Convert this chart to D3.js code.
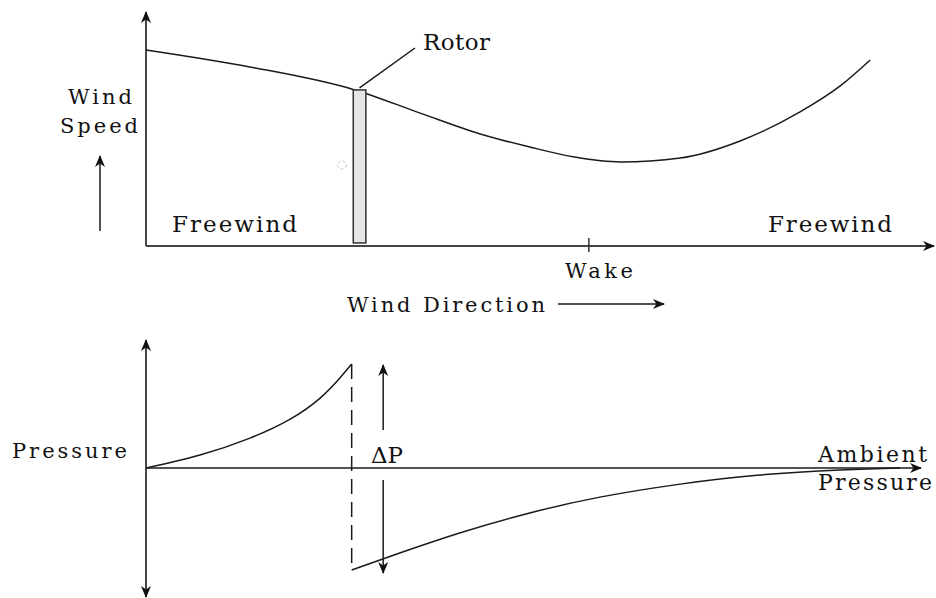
<!DOCTYPE html>
<html>
<head>
<meta charset="utf-8">
<script src="https://cdn.jsdelivr.net/npm/d3@7"></script>
<style>
  body { margin: 0; background: #fff; }
  svg { display: block; }
  text { font-family: "DejaVu Serif", "Liberation Serif", serif; fill: #111; }
</style>
</head>
<body>
<div id="chart"></div>
<script>
// Top panel: wind speed along the stream (distance 0..10, speed 0..10)
const speedX = [0, 1.32, 2.65, 3.48, 4.24, 4.87, 5.44, 6.02, 6.78, 7.54, 8.30, 8.81, 9.19]
const speedY = [8.38, 7.65, 6.67, 5.68, 4.79, 4.23, 3.80, 3.59, 3.76, 4.49, 5.73, 6.84, 7.95]

// Rotor disc position and height
const rotorX = [2.63, 2.79]
const rotorY = [0.13, 6.67]
const wakeX = 5.62

// Bottom panel: pressure relative to ambient, before and after the rotor
const upX = [0, 0.685, 1.32, 1.83, 2.21, 2.46, 2.61]
const upY = [0, 0.50, 1.15, 1.88, 2.69, 3.46, 4.0]
const downX = [2.61, 3.22, 3.98, 4.87, 5.76, 6.78, 7.79, 8.81, 9.57]
const downY = [-3.92, -3.27, -2.50, -1.73, -1.12, -0.62, -0.27, -0.08, 0]
const deltaX = 3.01
const deltaRange = [3.96, -4.04]

const width = 936
const height = 598

const svg = d3.select("#chart")
  .append("svg")
  .attr("width", width)
  .attr("height", height)

svg.append("rect").attr("width", width).attr("height", height).attr("fill", "#fff")

// barbed arrow head
svg.append("defs").append("marker")
  .attr("id", "arrow")
  .attr("viewBox", "0 0 12 12")
  .attr("refX", 11)
  .attr("refY", 6)
  .attr("markerWidth", 12)
  .attr("markerHeight", 12)
  .attr("markerUnits", "userSpaceOnUse")
  .attr("orient", "auto-start-reverse")
  .append("path")
  .attr("d", "M0,1 L12,6 L0,11 L3.5,6 Z")
  .attr("fill", "#111")

const x = d3.scaleLinear().domain([0, 10]).range([146, 934])
const yTop = d3.scaleLinear().domain([0, 10]).range([246, 12])
const yBot = d3.scaleLinear().domain([-5, 5]).range([598, 338])

const ink = "#1a1a1a"

function label(txt, px, py, size, len, anchor) {
  const t = svg.append("text")
    .attr("x", px)
    .attr("y", py)
    .attr("font-size", size + "px")
    .attr("text-anchor", anchor || "start")
    .text(txt)
  if (len) t.attr("textLength", len).attr("lengthAdjust", "spacing")
  return t
}

function seg(x1, y1, x2, y2, opts) {
  const o = opts || {}
  const l = svg.append("line")
    .attr("x1", x1).attr("y1", y1).attr("x2", x2).attr("y2", y2)
    .attr("stroke", o.color || ink)
    .attr("stroke-width", o.w || 1.5)
  if (o.end) l.attr("marker-end", "url(#arrow)")
  if (o.start) l.attr("marker-start", "url(#arrow)")
  if (o.dash) l.attr("stroke-dasharray", o.dash)
  return l
}

function curve(xs, ys, yScale, kind) {
  const gen = d3.line().curve(kind || d3.curveMonotoneX)
  svg.append("path")
    .attr("d", gen(xs.map((d, i) => [x(d), yScale(ys[i])])))
    .attr("fill", "none")
    .attr("stroke", ink)
    .attr("stroke-width", 1.5)
}

// ---- Top panel ----
seg(x(0), yTop(0), x(0), yTop(10), { end: true, color: "#333", w: 1.8 })
seg(x(0), yTop(0), x(10), yTop(0), { end: true, color: "#444", w: 2 })

// wake tick
seg(x(wakeX), yTop(0) - 8, x(wakeX), yTop(0) + 6, { color: "#333", w: 1.5 })

curve(speedX, speedY, yTop)

// rotor
svg.append("rect")
  .attr("x", x(rotorX[0]))
  .attr("y", yTop(rotorY[1]))
  .attr("width", x(rotorX[1]) - x(rotorX[0]))
  .attr("height", yTop(rotorY[0]) - yTop(rotorY[1]))
  .attr("fill", "#e6e6e6")
  .attr("stroke", "#333")
  .attr("stroke-width", 1.5)

// rotor leader line
seg(x((rotorX[0] + rotorX[1]) / 2), yTop(rotorY[1]) - 2, 415, 48, { w: 1.5 })
label("Rotor", 423, 50, 23, 67)

// faint scan mark left of the rotor
svg.append("ellipse")
  .attr("cx", 342).attr("cy", 165).attr("rx", 4.5).attr("ry", 4)
  .attr("fill", "none").attr("stroke", "#c8c8c8").attr("stroke-width", 1)
  .attr("stroke-dasharray", "3,2")

label("Wind", 68, 104, 21, 64)
label("Speed", 60, 133, 21, 78)
seg(100, 231, 100, 156, { end: true, w: 1.5 })

label("Freewind", 172, 232, 23, 125)
label("Freewind", 768, 232, 23, 124)
label("Wake", 565, 278, 21, 68)
label("Wind Direction", 347, 312, 21, 198)
seg(558, 304, 664, 304, { end: true, w: 1.5 })

// ---- Bottom panel ----
seg(x(0), yBot(-5) - 1, x(0), yBot(5) + 2, { start: true, end: true, w: 1.6 })
seg(x(0), yBot(0), 921, yBot(0), { end: true, w: 1.6 })

curve(upX, upY, yBot, d3.curveNatural)
curve(downX, downY, yBot, d3.curveNatural)

// rotor plane (dashed)
seg(x(upX[upX.length - 1]), yBot(upY[upY.length - 1]), x(downX[0]), yBot(downY[0]), { dash: "15,8", w: 1.5 })

// delta P arrows
seg(x(deltaX), 430, x(deltaX), yBot(deltaRange[0]), { end: true, w: 1.5 })
seg(x(deltaX), 480, x(deltaX), yBot(deltaRange[1]), { end: true, w: 1.5 })
label("\u0394P", 371, 463, 23)

label("Pressure", 12, 458, 21, 115)
label("Ambient", 818, 462, 22, 109)
label("Pressure", 818, 490, 22, 114)
</script>
</body>
</html>
